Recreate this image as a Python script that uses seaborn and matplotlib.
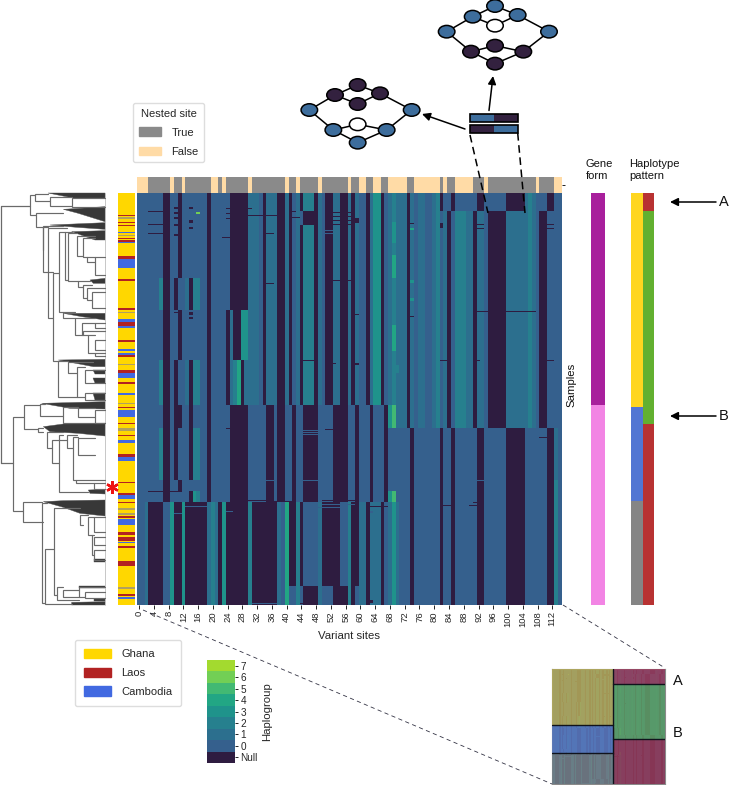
import numpy as np
import seaborn as sns
import matplotlib
matplotlib.use("Agg")
import matplotlib.pyplot as plt
from matplotlib.colors import ListedColormap
from matplotlib.patches import Ellipse, Patch, Polygon, Rectangle

sns.set_theme(style="white")
plt.rcParams["font.family"] = ["Liberation Sans", "DejaVu Sans"]

W, H = 730, 785
N_ROWS, N_COLS = 412, 115
NULL = -1

HAPLO_COLORS = ["#2e1c40", "#35608d", "#2c6f8e", "#26808e", "#1f938b", "#22a684", "#42b973", "#72cf55", "#a3da2f"]
HAPLO_LABELS = ["Null", "0", "1", "2", "3", "4", "5", "6", "7"]

# (first row, end row, null columns, [(column, haplogroup) ...])
TEAL_UPPER = [(30, 1), (31, 1), (32, 1), (33, 0), (35, 1), (36, 1), (37, 1), (40, 1), (43, 1), (45, 2), (46, 2), (47, 2),
              (49, 1), (53, 1), (54, 1), (57, 1), (59, 1), (63, 1), (64, 3), (65, 3), (68, 1), (69, 2), (70, 1),
              (71, 1), (72, 1), (74, 1), (76, 1), (77, 1), (80, 1), (81, 2), (83, 1), (86, 2), (87, 2), (88, 2), (89, 1), (90, 1),
              (92, 1), (93, 1), (100, 1), (101, 1), (102, 1), (103, 1), (104, 1), (105, 1), (106, 2), (107, 1)]
TEAL_LOWER = [(2, 1), (9, 3), (12, 3), (19, 1), (20, 2), (21, 1), (23, 3), (30, 2), (38, 1), (40, 4), (43, 2), (49, 1), (57, 2),
              (60, 1), (61, 1), (63, 1), (64, 1), (65, 1), (68, 1), (69, 3), (70, 1), (113, 2)]

BLOCKS = [
    (0, 18, [7, 8, 11, 19, 25, 26, 27, 28, 29, 34, 38, 39, 41, 44, 48, 51, 52, 55, 56, 58, 62, 66, 73, 82, 85, 92, 93, 100, 101, 102, 103, 104, 111, 112], [t for t in TEAL_UPPER if t[0] not in (92, 93, 100, 101, 102, 103, 104, 83, 86, 87, 88, 89, 90)]),
    (18, 32, [7, 8, 11, 19, 25, 26, 27, 28, 29, 34, 38, 39, 41, 45, 46, 47, 48, 51, 52, 55, 56, 58, 62, 66, 73, 84, 91, 95, 96, 97, 98, 99, 109, 110], TEAL_UPPER),
    (32, 85, [7, 8, 11, 19, 25, 26, 27, 28, 29, 34, 38, 39, 41, 44, 48, 51, 52, 55, 56, 58, 62, 66, 73, 84, 91, 95, 96, 97, 98, 99, 109, 110], TEAL_UPPER),
    (85, 117, [7, 8, 10, 14, 19, 25, 26, 27, 28, 29, 34, 38, 39, 41, 44, 48, 51, 52, 55, 56, 58, 62, 66, 73, 84, 91, 95, 96, 97, 98, 99, 109, 110], TEAL_UPPER + [(6, 2), (15, 2), (16, 2), (13, 1)]),
    (117, 167, [7, 8, 11, 19, 24, 26, 27, 34, 38, 39, 41, 44, 48, 51, 52, 55, 56, 58, 62, 66, 73, 84, 91, 95, 96, 97, 98, 99, 109, 110], TEAL_UPPER + [(28, 3), (29, 3), (25, 1)]),
    (167, 212, [7, 8, 10, 14, 19, 24, 28, 34, 38, 39, 41, 44, 48, 51, 52, 55, 56, 58, 62, 66, 73, 84, 91, 95, 96, 97, 98, 99, 109, 110], TEAL_UPPER + [(6, 2), (15, 2), (16, 2), (13, 1), (27, 4), (25, 1), (26, 2), (29, 1)]),
    (212, 235, [7, 8, 11, 10, 14, 19, 25, 26, 27, 28, 29, 35, 36, 38, 39, 42, 45, 46, 47, 48, 53, 54, 55, 56, 59, 63, 67, 73, 84, 91, 95, 96, 97, 98, 99, 109, 110], [t for t in TEAL_UPPER if t[0] > 68] + [(69, 5), (68, 3)]),
    (235, 287, [7, 8, 10, 14, 19, 25, 26, 27, 28, 29, 35, 36, 38, 39, 42, 45, 46, 47, 48, 53, 54, 55, 56, 59, 63, 67, 74, 82, 85, 92, 93, 100, 101, 102, 103, 104, 111, 112], [(6, 2), (15, 2), (16, 2), (113, 1)]),
    (287, 298, [7, 8, 11, 19, 25, 26, 27, 28, 29, 35, 36, 38, 39, 42, 45, 46, 47, 48, 53, 54, 55, 56, 59, 63, 67, 74, 82, 85, 92, 93, 100, 101, 102, 103, 104, 111, 112], [(113, 2)]),
    (298, 309, [7, 8, 14, 19, 25, 26, 27, 28, 29, 35, 36, 38, 39, 42, 45, 46, 47, 48, 53, 54, 55, 56, 59, 63, 67, 74, 82, 85, 92, 93, 100, 101, 102, 103, 104, 111, 112], [(15, 3), (16, 2), (69, 5), (68, 3), (113, 2)]),
    (309, 393, [3, 4, 5, 6, 10, 11, 13, 14, 15, 16, 17, 18, 22, 24, 25, 26, 27, 28, 29, 31, 32, 33, 34, 35, 36, 37, 41, 42, 44, 50, 51, 52, 53, 54, 58, 59, 62, 66, 74, 82, 85, 92, 93, 100, 101, 102, 103, 104, 111, 112], TEAL_LOWER),
    (393, 412, [3, 4, 5, 6, 10, 11, 13, 14, 15, 16, 17, 18, 22, 24, 25, 26, 27, 28, 29, 31, 32, 33, 34, 35, 36, 37, 45, 46, 47, 48, 53, 54, 55, 56, 58, 62, 66, 74, 82, 85, 92, 93, 100, 101, 102, 103, 104, 111, 112], TEAL_LOWER),
]

# Short features across columns: (first row, end row, first column, end column, haplogroup)
STREAKS = [
    (18, 19, 3, 7, NULL), (31, 32, 3, 7, NULL), (40, 41, 3, 7, NULL), (44, 45, 23, 25, NULL), (22, 23, 30, 38, NULL),
    (14, 16, 10, 11, NULL), (19, 21, 10, 11, NULL), (24, 26, 10, 11, NULL), (31, 33, 10, 11, NULL), (41, 43, 10, 11, NULL),
    (14, 16, 14, 15, NULL), (27, 30, 14, 15, NULL), (34, 36, 14, 15, NULL), (19, 21, 16, 17, 6),
    (15, 16, 24, 26, NULL), (20, 21, 24, 26, NULL), (25, 26, 24, 26, NULL), (15, 16, 30, 31, NULL), (18, 19, 42, 43, NULL),
    (24, 25, 41, 44, NULL), (19, 20, 51, 58, NULL), (23, 24, 51, 58, NULL), (27, 28, 52, 58, NULL), (31, 32, 51, 58, NULL),
    (37, 38, 51, 53, 0), (40, 41, 51, 53, 0), (25, 30, 59, 60, NULL), (30, 31, 73, 75, NULL), (35, 37, 74, 75, 4),
    (30, 35, 82, 83, NULL), (31, 32, 91, 94, NULL), (35, 36, 91, 94, NULL), (31, 32, 109, 113, NULL), (35, 36, 109, 113, NULL),
    (7, 8, 73, 74, NULL), (40, 41, 34, 37, NULL), (87, 88, 51, 59, NULL), (90, 91, 34, 37, NULL),
    (29, 50, 69, 70, 3), (62, 85, 69, 70, 4), (118, 119, 91, 108, NULL), (123, 124, 73, 75, NULL), (121, 122, 58, 60, NULL),
    (119, 120, 10, 12, NULL), (119, 122, 14, 15, NULL), (124, 126, 14, 15, NULL), (167, 168, 44, 49, NULL), (167, 168, 82, 85, NULL),
    (167, 168, 91, 93, NULL), (167, 168, 109, 113, NULL), (170, 171, 51, 54, NULL), (170, 172, 58, 60, NULL), (132, 158, 69, 70, 4),
    (172, 180, 69, 71, 2), (87, 90, 74, 75, 3), (105, 108, 74, 75, 3),
    (235, 236, 24, 26, NULL), (235, 236, 28, 30, NULL), (236, 237, 51, 55, NULL), (237, 238, 44, 49, 0), (239, 240, 44, 49, 0),
    (241, 242, 44, 49, 0), (287, 288, 34, 37, 0), (287, 288, 44, 49, 0), (287, 288, 92, 94, 0), (298, 299, 3, 12, NULL),
    (244, 245, 109, 112, NULL), (307, 308, 30, 37, NULL), (309, 310, 13, 19, NULL), (313, 314, 13, 19, 0), (308, 309, 37, 43, NULL),
    (307, 308, 50, 59, NULL), (311, 312, 50, 59, 0), (314, 315, 49, 56, 0), (313, 314, 63, 68, NULL), (312, 313, 82, 86, NULL),
    (309, 310, 91, 94, NULL), (312, 313, 90, 94, NULL), (410, 411, 31, 38, 0), (410, 411, 44, 49, NULL), (407, 410, 63, 64, NULL),
    (320, 321, 10, 12, 0), (318, 319, 24, 26, 0), (318, 320, 63, 64, 0),
]

NESTED_TRUE_RUNS = [(3, 9), (10, 12), (13, 20), (22, 23), (24, 30), (31, 40), (41, 43), (44, 49), (50, 57), (58, 60), (62, 64),
                    (66, 68), (73, 75), (82, 83), (84, 86), (91, 94), (95, 108), (109, 113)]
NESTED_COLORS = ["#ffdba6", "#8a8a8a"]

COUNTRY_COLORS = ["#ffd700", "#b22222", "#4169e1", "#b0a060"]
LAOS, CAMBODIA, MIXED = 1, 2, 3
COUNTRY_RUNS = [
    (22, 23, LAOS), (24, 26, MIXED), (29, 30, LAOS), (32, 33, LAOS), (39, 40, CAMBODIA), (42, 43, MIXED), (45, 46, LAOS),
    (47, 49, LAOS), (49, 50, CAMBODIA), (63, 66, LAOS), (66, 75, CAMBODIA), (86, 88, LAOS), (115, 117, LAOS), (119, 120, MIXED),
    (126, 129, CAMBODIA), (129, 133, LAOS), (133, 135, CAMBODIA), (147, 149, LAOS), (156, 158, CAMBODIA), (160, 162, CAMBODIA),
    (162, 164, LAOS), (171, 172, MIXED), (177, 180, LAOS), (180, 185, CAMBODIA), (189, 191, LAOS), (200, 202, CAMBODIA),
    (210, 211, MIXED), (214, 215, LAOS), (217, 224, CAMBODIA), (230, 231, LAOS), (235, 238, MIXED), (242, 243, LAOS),
    (247, 250, CAMBODIA), (261, 264, LAOS), (264, 268, CAMBODIA), (289, 290, LAOS), (300, 302, LAOS), (302, 306, CAMBODIA),
    (309, 310, LAOS), (315, 317, MIXED), (320, 322, MIXED), (323, 325, LAOS), (326, 332, CAMBODIA), (339, 342, LAOS),
    (344, 348, LAOS), (349, 350, CAMBODIA), (353, 355, LAOS), (368, 373, LAOS), (394, 396, MIXED), (401, 403, LAOS), (404, 406, CAMBODIA),
]

GENE_COLORS = ["#a81f9c", "#f284e4"]
GENE_FIRST_ROWS = 212
PATTERN_COLORS = ["#ffd61f", "#5276d3", "#858585", "#b83232", "#62b030"]
PATTERN_LEFT_RUNS = [(214, 0), (94, 1), (104, 2)]
PATTERN_RIGHT_RUNS = [(18, 3), (213, 4), (181, 3)]

# Dendrogram: (branch x, top y, bottom y, top end x, bottom end x)
DENDRO_UPPER = [
    (90, 75, 135, 105, 107), (105, 72, 92, 145, 150), (150, 80, 107, 215, 215), (215, 85, 110, 315, 315), (107, 130, 170, 190, 128),
    (128, 170, 240, 145, 128), (130, 168, 305, 190, 160), (145, 175, 445, 200, 160), (160, 310, 572, 178, 175), (178, 185, 425, 195, 190),
    (195, 185, 330, 215, 205), (205, 190, 332, 230, 235), (230, 198, 258, 285, 250), (250, 205, 262, 285, 262), (262, 260, 275, 285, 285),
    (285, 262, 315, 315, 315), (235, 332, 350, 270, 250), (250, 345, 385, 275, 260), (260, 355, 390, 315, 275), (275, 365, 415, 315, 315),
    (190, 425, 445, 225, 225), (225, 445, 495, 285, 245), (285, 460, 475, 315, 315), (245, 460, 495, 285, 250), (250, 482, 495, 315, 265),
    (265, 495, 550, 285, 285), (285, 510, 540, 315, 315), (285, 550, 558, 315, 315), (175, 572, 680, 205, 232), (205, 575, 610, 280, 232),
    (232, 590, 680, 255, 255), (255, 600, 640, 315, 315), (255, 668, 690, 315, 315),
]
WEDGES_UPPER = [
    [(145, 69), (315, 69), (315, 85), (220, 85)], [(190, 118), (315, 110), (315, 155), (235, 130)],
    [(150, 165), (315, 158), (315, 178), (230, 172)], [(215, 185), (315, 182), (315, 210), (285, 210)],
    [(270, 330), (315, 325), (315, 340), (280, 340)], [(190, 430), (315, 430), (315, 450), (245, 440)],
    [(175, 570), (315, 568), (315, 590), (280, 590)], [(280, 600), (315, 600), (315, 612), (285, 612)],
    [(280, 625), (315, 625), (315, 640), (285, 640)], [(280, 670), (315, 670), (315, 690), (285, 690)],
]
DENDRO_LOWER = [
    (38, 50, 333, 72, 70), (72, 15, 88, 120, 115), (120, 12, 48, 135, 190), (190, 20, 70, 235, 315), (235, 25, 50, 285, 285),
    (285, 30, 68, 315, 315), (115, 85, 97, 130, 130), (142, 95, 145, 190, 155), (155, 120, 190, 200, 178), (178, 105, 275, 190, 265),
    (200, 105, 145, 230, 218), (218, 110, 240, 235, 228), (235, 115, 165, 285, 285), (228, 240, 250, 315, 283), (283, 250, 268, 315, 315),
    (70, 305, 365, 125, 130), (125, 308, 610, 140, 135), (135, 448, 612, 162, 215), (162, 325, 585, 240, 172), (240, 345, 375, 265, 250),
    (265, 350, 405, 283, 277), (283, 352, 395, 315, 315), (277, 405, 465, 283, 283), (283, 410, 435, 315, 315), (283, 450, 480, 315, 315),
    (172, 560, 600, 190, 238), (190, 570, 590, 238, 238), (238, 560, 590, 315, 255), (255, 575, 595, 315, 315),
]
WEDGES_LOWER = [
    [(125, 10), (315, 5), (315, 27), (210, 25)], [(130, 80), (190, 72), (315, 70), (315, 108), (235, 100), (150, 95)],
    [(265, 270), (315, 268), (315, 282), (270, 280)], [(130, 305), (190, 302), (315, 300), (315, 348), (240, 340), (190, 322)],
    [(283, 476), (315, 476), (315, 485), (283, 485)], [(238, 558), (315, 558), (315, 564), (238, 564)],
    [(283, 598), (315, 598), (315, 602), (283, 602)], [(215, 607), (315, 605), (315, 615), (215, 615)],
]

# Network sketches: node names, fill keys and links
NET_EDGES = [(0, 1), (1, 2), (1, 3), (2, 4), (3, 4), (4, 9), (0, 5), (5, 6), (5, 7), (6, 8), (7, 8), (8, 9)]
NET_LEFT = [(58, 330, "b"), (135, 285, "d"), (203, 255, "d"), (203, 312, "d"), (270, 280, "d"),
            (130, 390, "b"), (203, 373, "w"), (203, 428, "b"), (290, 390, "b"), (365, 330, "b")]
NET_TOP = [(470, 95, "b"), (548, 50, "b"), (615, 18, "b"), (615, 77, "w"), (683, 45, "b"),
           (543, 155, "d"), (615, 137, "d"), (615, 191, "d"), (700, 155, "d"), (777, 95, "b")]
NET_FILL = {"b": "#3d6d9c", "d": "#33213f", "w": "white"}


def px_axes(x0, y0, x1, y1, **kw):
    return fig.add_axes([x0 / W, 1 - y1 / H, (x1 - x0) / W, (y1 - y0) / H], **kw)


def strip(ax, data, colors):
    sns.heatmap(data, ax=ax, cmap=ListedColormap(colors), vmin=-0.5, vmax=len(colors) - 0.5, cbar=False,
                xticklabels=False, yticklabels=False)


matrix = np.zeros((N_ROWS, N_COLS))
for first, last, dark, teal in BLOCKS:
    for col, val in teal:
        matrix[first:last, col] = val
    matrix[first:last, dark] = NULL
for r0, r1, c0, c1, val in STREAKS:
    matrix[r0:r1, c0:c1] = val

nested = np.zeros((1, N_COLS))
for c0, c1 in NESTED_TRUE_RUNS:
    nested[0, c0:c1] = 1

country = np.zeros((N_ROWS, 1))
for r0, r1, code in COUNTRY_RUNS:
    country[r0:r1] = code

gene = np.zeros((N_ROWS, 1))
gene[GENE_FIRST_ROWS:] = 1


def runs_to_col(runs):
    return np.repeat([c for _, c in runs], [n for n, _ in runs])


pattern = np.column_stack([runs_to_col(PATTERN_LEFT_RUNS), runs_to_col(PATTERN_RIGHT_RUNS)])

fig = plt.figure(figsize=(W / 100, H / 100), dpi=100)
fig.patch.set_facecolor("white")

ax_main = px_axes(137.3, 193, 561.5, 605)
ax_cbar = px_axes(207, 660, 235, 763)
sns.heatmap(matrix, ax=ax_main, cbar_ax=ax_cbar, cmap=ListedColormap(HAPLO_COLORS), vmin=-1.5, vmax=7.5,
            xticklabels=4, yticklabels=False)
ax_main.tick_params(axis="x", bottom=True, length=3, width=0.7, pad=1.5, labelsize=6.8, labelrotation=90, color="#222222")
ax_main.set_xlabel("Variant sites", fontsize=8.2, labelpad=3)
cbar = ax_main.collections[0].colorbar
cbar.set_ticks(np.arange(-1, 8), labels=HAPLO_LABELS)
cbar.ax.tick_params(length=2.5, width=0.7, pad=1.5, labelsize=7.2, right=True, color="#222222")
cbar.set_label("Haplogroup", fontsize=8.2, labelpad=3)
cbar.outline.set_visible(False)

ax_nested = px_axes(137.3, 176.7, 561.5, 192.7)
strip(ax_nested, nested, NESTED_COLORS)
ax_nested.yaxis.tick_right()
ax_nested.set_yticks([0.5], [""])
ax_nested.tick_params(axis="y", right=True, length=2.5, width=0.7, color="#222222")

strip(px_axes(118, 193, 135, 605), country, COUNTRY_COLORS)
strip(px_axes(591, 193, 605, 605), gene, GENE_COLORS)
strip(px_axes(631, 193, 654, 605), pattern, PATTERN_COLORS)

# Clustermap thumbnail with coloured group overlays
ax_inset = px_axes(552, 669, 665, 784)
sns.heatmap(matrix, ax=ax_inset, cmap=ListedColormap(HAPLO_COLORS), vmin=-1.5, vmax=7.5, cbar=False,
            xticklabels=False, yticklabels=False)
GROUPS = [(0, 0.54, 0, 0.49, "#b3a95a"), (0, 0.54, 0.49, 0.73, "#5878bd"), (0, 0.54, 0.73, 1, "#727f86"),
          (0.54, 1, 0, 0.13, "#983f5f"), (0.54, 1, 0.13, 0.61, "#5e9f66"), (0.54, 1, 0.61, 1, "#933a58")]
for x0, x1, y0, y1, col in GROUPS:
    ax_inset.add_patch(Rectangle((x0, 1 - y1), x1 - x0, y1 - y0, transform=ax_inset.transAxes, color=col, alpha=0.88, lw=0, zorder=3))
for x0, x1, y in [(0, 0.54, 0.49), (0, 0.54, 0.73), (0.54, 1, 0.13), (0.54, 1, 0.61)]:
    ax_inset.plot([x0, x1], [1 - y, 1 - y], transform=ax_inset.transAxes, color="#10131c", lw=1, zorder=4)
ax_inset.plot([0.54, 0.54], [0, 1], transform=ax_inset.transAxes, color="#10131c", lw=1, zorder=4)
for s in ax_inset.spines.values():
    s.set_visible(True)
    s.set_color("#8a8a8a")
    s.set_linewidth(0.8)

# Overlay in figure pixels for dendrogram and annotations
ov = fig.add_axes([0, 0, 1, 1], zorder=10)
ov.set_xlim(0, W)
ov.set_ylim(H, 0)
ov.axis("off")
ov.patch.set_alpha(0)


def draw_tree(brackets, wedges, y_base):
    for x, t, b, te, be in brackets:
        xs = np.array([te, x, x, be]) / 3
        ys = y_base + np.array([t, t, b, b]) / 3
        ov.plot(xs, ys, color="#6a6a6a", lw=0.85, solid_joinstyle="miter")
    for poly in wedges:
        pts = [(px / 3, y_base + py / 3) for px, py in poly]
        ov.add_patch(Polygon(pts, closed=True, fc="#383838", ec="#505050", lw=0.3))


ov.plot([0.6, 0.6, 30], [463, 205.5, 205.5], color="#6a6a6a", lw=0.9)
ov.plot([0.6, 12.6], [463, 463], color="#6a6a6a", lw=0.9)
ov.plot([105, 105], [193, 605], color="#b0b0b0", lw=0.5)
draw_tree(DENDRO_UPPER, WEDGES_UPPER, 170)
draw_tree(DENDRO_LOWER, WEDGES_LOWER, 400)

ov.plot([111.5], [486.5], marker=(6, 2, 0), ms=9, mew=1.7, color="#ee1111", ls="none")

# Labels
LBL = dict(va="center", color="#111111", linespacing=1.3)
TXT = dict(ha="center", va="center", color="#111111")
ov.text(586, 170, "Gene\nform", fontsize=8, ha="left", **LBL)
ov.text(629, 170, "Haplotype\npattern", fontsize=8, ha="left", **LBL)
ov.text(571, 385, "Samples", fontsize=8.2, rotation=90, **TXT)
ov.text(724, 202, "A", fontsize=10.5, **TXT)
ov.text(724, 416, "B", fontsize=10.5, **TXT)
ov.text(678, 681, "A", fontsize=10.5, **TXT)
ov.text(678, 733, "B", fontsize=10.5, **TXT)

ARROW = dict(arrowstyle="-|>", color="black", lw=1.1, mutation_scale=12, shrinkA=0, shrinkB=0)
for tail, head in [((716, 202), (670, 202)), ((716, 416), (670, 416)),
                   ((489, 110.5), (493, 76)), ((465, 129), (422, 114))]:
    ov.annotate("", xy=head, xytext=tail, arrowprops=ARROW)

# Dashed guides
ov.plot([143, 552], [610, 784], ls=(0, (5, 4)), color="#333344", lw=0.6)
ov.plot([563, 665], [605, 668], ls=(0, (5, 4)), color="#333344", lw=0.6)
ov.plot([470, 488], [135, 213], ls=(0, (5, 3)), color="black", lw=1.1)
ov.plot([517.7, 525], [133, 213], ls=(0, (5, 3)), color="black", lw=1.1)

# Site pairs
for y, left, right in [(113.5, "#3d6d9c", "#33213f"), (125, "#33213f", "#3d6d9c")]:
    ov.add_patch(Rectangle((470, y), 23.5, 8, fc=left, ec="black", lw=0))
    ov.add_patch(Rectangle((493.5, y), 24, 8, fc=right, ec="black", lw=0))
    ov.add_patch(Rectangle((470, y), 47.5, 8, fill=False, ec="black", lw=1.2))

for nodes in (NET_LEFT, NET_TOP):
    for a, b in NET_EDGES:
        ov.plot([290 + nodes[a][0] / 3, 290 + nodes[b][0] / 3], [nodes[a][1] / 3, nodes[b][1] / 3], color="black", lw=1.1, zorder=4)
    for x, y, key in nodes:
        ov.add_patch(Ellipse((290 + x / 3, y / 3), 16.5, 12.5, fc=NET_FILL[key], ec="black", lw=1.1, zorder=5))

# Legends
LEG = dict(loc="upper left", fontsize=8, frameon=True, fancybox=True, edgecolor="#dddddd", facecolor="white",
           handletextpad=0.95, framealpha=1, borderaxespad=0, bbox_transform=ov.transData)
leg1 = ov.legend(handles=[Patch(color=NESTED_COLORS[1], label="True"), Patch(color=NESTED_COLORS[0], label="False")],
                 title="Nested site", title_fontsize=8, handlelength=2.0, handleheight=0.85, labelspacing=0.8, borderpad=0.5,
                 bbox_to_anchor=(133, 103), **LEG)
ov.add_artist(leg1)
ov.legend(handles=[Patch(color=COUNTRY_COLORS[0], label="Ghana"), Patch(color=COUNTRY_COLORS[1], label="Laos"),
                   Patch(color=COUNTRY_COLORS[2], label="Cambodia")], handlelength=2.43, handleheight=0.9, labelspacing=0.75,
          borderpad=0.8, bbox_to_anchor=(75, 640), **LEG)

fig.savefig("out.png", dpi=100)
